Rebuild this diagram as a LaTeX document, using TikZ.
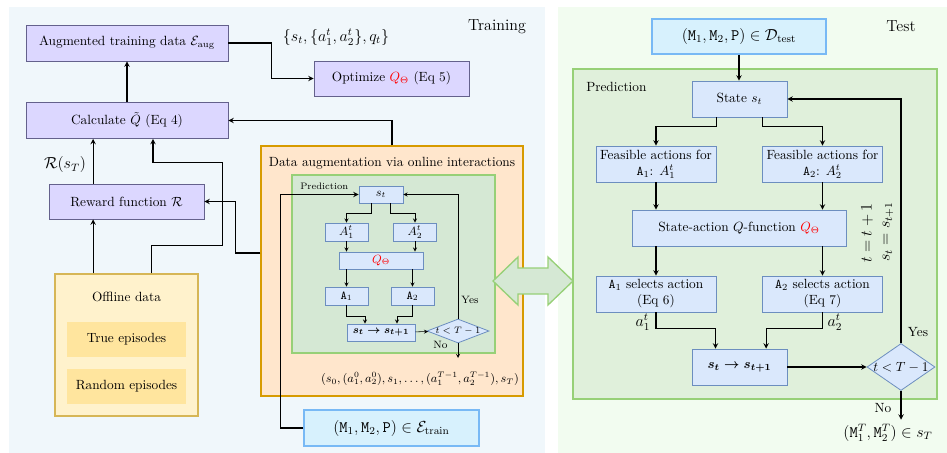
\documentclass[tikz,border=0pt]{standalone}
\usepackage{amsmath}
\usepackage{amssymb}
\usepackage{tikz}
\usetikzlibrary{shapes,arrows,positioning}

\definecolor{trainbg}{RGB}{240,247,251}
\definecolor{testbg}{RGB}{242,252,240}
\definecolor{lavfill}{RGB}{220,215,255}
\definecolor{lavdraw}{RGB}{100,97,140}
\definecolor{bluefill}{HTML}{DAE8FC}
\definecolor{bluedraw}{HTML}{6C8EBF}
\definecolor{cyanfill}{RGB}{215,241,253}
\definecolor{cyandraw}{RGB}{120,185,245}
\definecolor{yelfill}{HTML}{FFF2CC}
\definecolor{yeldraw}{HTML}{D6B656}
\definecolor{epfill}{RGB}{255,229,158}
\definecolor{orfill}{HTML}{FFE6CC}
\definecolor{ordraw}{HTML}{D79B00}
\definecolor{grfill}{HTML}{D5E8D4}
\definecolor{grdraw}{HTML}{97D077}
\definecolor{grlight}{RGB}{224,240,219}

\begin{document}
\begin{tikzpicture}[x=.75pt,y=-.75pt,>=stealth,
	trainbox/.style={draw=lavdraw,fill=lavfill,line width=.6pt,inner sep=1pt},
	cyanbox/.style={draw=cyandraw,fill=cyanfill,line width=.8pt,inner sep=1pt,font=\large},
	smallbox/.style={draw=bluedraw,fill=bluefill,line width=.6pt,inner sep=0pt,font=\small},
	testbox/.style={draw=bluedraw,fill=bluefill,line width=.6pt,inner sep=.5pt,align=center},
	decbox/.style={diamond,draw=bluedraw,fill=bluefill,line width=.6pt,inner sep=0pt}]
	\useasboundingbox (0,0) rectangle (947,453);
	\fill[trainbg] (9,7) rectangle (545,453);
	\fill[testbg] (558,7) rectangle (947,453);
	\node[font=\large] (trainlbl) at (497,27) {Training};
	\node[font=\large] (testlbl) at (901,26) {Test};

	% training side
	\node[trainbox,minimum width=151.5pt,minimum height=27pt] (aug) at (127,43) {Augmented training data $\mathcal{E}_{\mathrm{aug}}$};
	\node[trainbox,minimum width=151.5pt,minimum height=27pt] (calc) at (127,120.5) {Calculate $\tilde{Q}$ (Eq 4)};
	\node[trainbox,minimum width=116.25pt,minimum height=26.25pt] (optim) at (391.5,78.5) {Optimize {\color{red}$Q_\Theta$} (Eq 5)};
	\node[trainbox,minimum width=116.25pt,minimum height=26.25pt] (reward) at (126.5,201.5) {Reward function $\mathcal{R}$};
	\node[font=\large] (setlbl) at (336,37) {$\{s_t,\{a_1^t,a_2^t\},q_t\}$};
	\node[font=\large] (rst) at (65,165) {$\mathcal{R}(s_T)$};

	\node[draw=yeldraw,fill=yelfill,line width=.8pt,minimum width=107.25pt,minimum height=106.5pt] (offline) at (126.5,345) {};
	\node (offlbl) at (126.5,297) {Offline data};
	\foreach \y/\n/\t in {339.5/trueep/True episodes,386.5/randep/Random episodes}
		\node[fill=epfill,minimum width=89.25pt,minimum height=26.25pt] (\n) at (126.5,\y) {\t};

	\node[draw=ordraw,fill=orfill,line width=.8pt,minimum width=196.5pt,minimum height=187.5pt] (augbox) at (392,271) {};
	\node (auglbl) at (392,163) {Data augmentation via online interactions};
	\node[draw=grdraw,fill=grfill,line width=.8pt,minimum width=152.25pt,minimum height=133.5pt] (predin) at (393.5,264) {};
	\node[font=\scriptsize,anchor=west,inner sep=0pt] (predinlbl) at (300,186.5) {Prediction};

	\node[smallbox,minimum width=33pt,minimum height=12.75pt] (st) at (381,194.5) {$s_t$};
	\node[smallbox,minimum width=32.25pt,minimum height=13.5pt] (aone) at (346.5,232) {$A_1^t$};
	\node[smallbox,minimum width=32.25pt,minimum height=13.5pt] (atwo) at (415,232) {$A_2^t$};
	\node[smallbox,minimum width=63pt,minimum height=12.75pt] (qin) at (381,260.5) {\color{red}$Q_\Theta$};
	\node[smallbox,minimum width=32.25pt,minimum height=13.5pt] (pone) at (346.5,296) {$\mathtt{A}_1$};
	\node[smallbox,minimum width=32.25pt,minimum height=13.5pt] (ptwo) at (412.5,296) {$\mathtt{A}_2$};
	\node[smallbox,font=\footnotesize,minimum width=51pt,minimum height=12.75pt] (trin) at (381,332.5) {$\boldsymbol{s_t\rightarrow s_{t+1}}$};
	\node[decbox,font=\scriptsize,minimum width=46.5pt,minimum height=18pt] (decin) at (458,331) {\makebox[0pt]{$t<T-1$}};
	\coordinate (decout) at (458,358);
	\node[font=\footnotesize] (yesin) at (470,300) {Yes};
	\node[font=\footnotesize] (noin) at (440.5,345) {No};
	\node[font=\small] (episode) at (420,379) {$(s_0,(a_1^0,a_2^0),s_1,\ldots,(a_1^{T-1},a_2^{T-1}),s_T)$};

	\draw[->] ([xshift=-7pt]st.south) -- ++(0,10) -| (aone.north);
	\draw[->] ([xshift=7pt]st.south) -- ++(0,10) -| (atwo.north);
	\draw[->] (aone.south) -- (aone.south |- qin.north);
	\draw[->] (atwo.south) -- (atwo.south |- qin.north);
	\draw[->] (pone.north |- qin.south) -- (pone.north);
	\draw[->] (ptwo.north |- qin.south) -- (ptwo.north);
	\draw[->] (pone.south) -- ++(0,11) -| ([xshift=-12pt]trin.north);
	\draw[->] (ptwo.south) -- ++(0,11) -| ([xshift=12pt]trin.north);
	\draw[->] (trin) -- (decin);
	\draw[->] (decin.north) |- (st.east);
	\draw[->] (decin.south) -- (decout);

	\node[cyanbox,minimum width=131.25pt,minimum height=27pt] (etrain) at (391.5,428) {$(\mathtt{M}_1,\mathtt{M}_2,\mathtt{P})\in\mathcal{E}_{\mathrm{train}}$};

	\draw[->,thick] (aug.east) -- ++(43,0) |- (optim.west);
	\draw[->,thick] (calc) -- (aug);
	\draw[->,thick] (augbox.north) |- (calc.east);
	\coordinate (rwup) at ([xshift=-25pt]reward.north);
	\draw[->,thick] (rwup) -- (rwup |- calc.south);
	\coordinate (offup) at ([xshift=-25pt]offline.north);
	\draw[->,thick] (offup) -- (offup |- reward.south);
	\coordinate (offout) at ([xshift=19pt]offline.north);
	\coordinate (calcin) at ([xshift=19.5pt]calc.south);
	\draw[->,thick] (offout) -- ++(0,-28) -- ++(71,0) -- ++(0,-83) -| (calcin);
	\coordinate (augout) at ([yshift=13.5pt]augbox.west);
	\draw[->,thick] (augout) -- ++(-25,0) |- (reward.east);
	\draw[->,thick] (etrain.west) -- ++(-23,0) |- (st.west);

	% test side
	\node[cyanbox,minimum width=130.5pt,minimum height=26.25pt] (dtest) at (739,36.5) {$(\mathtt{M}_1,\mathtt{M}_2,\mathtt{P})\in\mathcal{D}_{\mathrm{test}}$};
	\node[draw=grdraw,fill=grlight,line width=.8pt,minimum width=273pt,minimum height=247.5pt] (predout) at (755,234) {};
	\node[anchor=west,inner sep=0pt] (predoutlbl) at (586,87) {Prediction};
	\node[testbox,minimum width=71.25pt,minimum height=27pt] (state) at (739.5,99) {State $s_t$};
	\node[testbox,minimum width=90pt,minimum height=27pt] (fone) at (656,164) {Feasible actions for\\$\mathtt{A}_1$: $A_1^t$};
	\node[testbox,minimum width=90pt,minimum height=27pt] (ftwo) at (822.5,164) {Feasible actions for\\$\mathtt{A}_2$: $A_2^t$};
	\node[testbox,minimum width=160.5pt,minimum height=27pt] (qfun) at (739,228) {State-action $Q$-function {\color{red}$Q_\Theta$}};
	\node[testbox,minimum width=90pt,minimum height=27pt] (sone) at (656,294) {$\mathtt{A}_1$ selects action\\(Eq 6)};
	\node[testbox,minimum width=90pt,minimum height=27pt] (stwo) at (822.5,294) {$\mathtt{A}_2$ selects action\\(Eq 7)};
	\node[testbox,minimum width=71.25pt,minimum height=27pt] (trans) at (739.5,367) {$\boldsymbol{s_t\rightarrow s_{t+1}}$};
	\node[decbox,minimum width=51pt,minimum height=35.25pt] (dec) at (901,367) {\makebox[0pt]{$t<T-1$}};
	\node[font=\large] (final) at (888,433) {$(\mathtt{M}_1^T,\mathtt{M}_2^T)\in s_T$};
	\node[font=\large] (aonelbl) at (643,322) {$a_1^t$};
	\node[font=\large] (atwolbl) at (835,322) {$a_2^t$};
	\node (yesout) at (918,332) {Yes};
	\node (noout) at (883,408) {No};
	\node[rotate=90,font=\large] (tinc) at (867,233) {$t=t+1$};
	\node[rotate=90,font=\large] (supd) at (888,232) {$s_t=s_{t+1}$};

	\draw[->,thick] (dtest.south) -- (dtest.south |- state.north);
	\draw[->,thick] ([xshift=-17pt]state.south) -- ++(0,9) -| (fone.north);
	\draw[->,thick] ([xshift=17pt]state.south) -- ++(0,9) -| (ftwo.north);
	\draw[->,thick] (fone.south) -- (fone.south |- qfun.north);
	\draw[->,thick] (ftwo.south) -- (ftwo.south |- qfun.north);
	\draw[->,thick] (sone.north |- qfun.south) -- (sone.north);
	\draw[->,thick] (stwo.north |- qfun.south) -- (stwo.north);
	\draw[->,thick] (sone.south) -- ++(0,16) -| ([xshift=-18pt]trans.north);
	\draw[->,thick] (stwo.south) -- ++(0,16) -| ([xshift=20pt]trans.north);
	\draw[->,thick] (trans) -- (dec);
	\draw[->,thick] (dec.north) |- (state.east);
	\draw[->,thick] (dec.south) -- (dec.south |- final.north);

	\draw[draw=grdraw,fill=grfill,line width=1pt] (493,281) -- (518,257) -- (518,268) -- (548,268) -- (548,257) -- (573,281) -- (548,305) -- (548,294) -- (518,294) -- (518,305) -- cycle;
\end{tikzpicture}
\end{document}
